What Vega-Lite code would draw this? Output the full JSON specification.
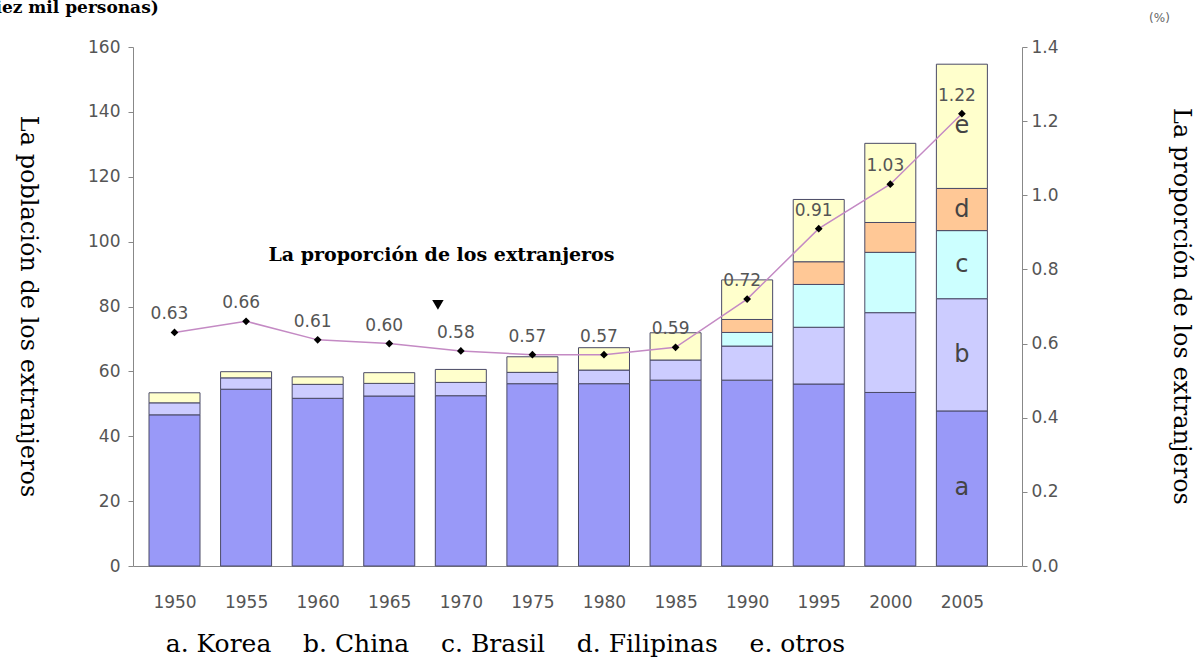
{
  "$schema": "https://vega.github.io/schema/vega-lite/v6.json",
  "autosize": {"type": "none"},
  "width": 889,
  "height": 519,
  "padding": {"left": 133, "top": 47, "right": 175, "bottom": 97},
  "background": "white",
  "config": {"view": {"stroke": null}},
  "datasets": {
    "bars": [
      {"year": 1950, "cat": "a", "value": 46.6}, {"year": 1950, "cat": "b", "value": 3.7}, {"year": 1950, "cat": "e", "value": 3.1},
      {"year": 1955, "cat": "a", "value": 54.5}, {"year": 1955, "cat": "b", "value": 3.5}, {"year": 1955, "cat": "e", "value": 1.9},
      {"year": 1960, "cat": "a", "value": 51.7}, {"year": 1960, "cat": "b", "value": 4.3}, {"year": 1960, "cat": "e", "value": 2.3},
      {"year": 1965, "cat": "a", "value": 52.4}, {"year": 1965, "cat": "b", "value": 3.9}, {"year": 1965, "cat": "e", "value": 3.3},
      {"year": 1970, "cat": "a", "value": 52.5}, {"year": 1970, "cat": "b", "value": 4.1}, {"year": 1970, "cat": "e", "value": 4.0},
      {"year": 1975, "cat": "a", "value": 56.2}, {"year": 1975, "cat": "b", "value": 3.5}, {"year": 1975, "cat": "e", "value": 4.8},
      {"year": 1980, "cat": "a", "value": 56.2}, {"year": 1980, "cat": "b", "value": 4.2}, {"year": 1980, "cat": "e", "value": 6.9},
      {"year": 1985, "cat": "a", "value": 57.3}, {"year": 1985, "cat": "b", "value": 6.2}, {"year": 1985, "cat": "e", "value": 8.4},
      {"year": 1990, "cat": "a", "value": 57.3}, {"year": 1990, "cat": "b", "value": 10.5}, {"year": 1990, "cat": "c", "value": 4.2}, {"year": 1990, "cat": "d", "value": 4.0}, {"year": 1990, "cat": "e", "value": 12.2},
      {"year": 1995, "cat": "a", "value": 56.1}, {"year": 1995, "cat": "b", "value": 17.5}, {"year": 1995, "cat": "c", "value": 13.2}, {"year": 1995, "cat": "d", "value": 7.0}, {"year": 1995, "cat": "e", "value": 19.2},
      {"year": 2000, "cat": "a", "value": 53.5}, {"year": 2000, "cat": "b", "value": 24.6}, {"year": 2000, "cat": "c", "value": 18.6}, {"year": 2000, "cat": "d", "value": 9.2}, {"year": 2000, "cat": "e", "value": 24.4},
      {"year": 2005, "cat": "a", "value": 47.8}, {"year": 2005, "cat": "b", "value": 34.6}, {"year": 2005, "cat": "c", "value": 21.0}, {"year": 2005, "cat": "d", "value": 13.0}, {"year": 2005, "cat": "e", "value": 38.3}
    ],
    "ratio": [
      {"year": 1950, "ratio": 0.63}, {"year": 1955, "ratio": 0.66}, {"year": 1960, "ratio": 0.61}, {"year": 1965, "ratio": 0.60},
      {"year": 1970, "ratio": 0.58}, {"year": 1975, "ratio": 0.57}, {"year": 1980, "ratio": 0.57}, {"year": 1985, "ratio": 0.59},
      {"year": 1990, "ratio": 0.72}, {"year": 1995, "ratio": 0.91}, {"year": 2000, "ratio": 1.03}, {"year": 2005, "ratio": 1.22}
    ]
  },
  "resolve": {"scale": {"y": "independent"}},
  "layer": [
    {
      "layer": [
        {
          "data": {"name": "bars"},
          "mark": {"type": "bar", "size": 51, "stroke": "#4a4a66", "strokeWidth": 1},
          "encoding": {
            "x": {
              "field": "year", "type": "quantitative",
              "scale": {"domain": [1947.45, 2008.85], "nice": false, "zero": false},
              "axis": {
                "values": [1950, 1955, 1960, 1965, 1970, 1975, 1980, 1985, 1990, 1995, 2000, 2005],
                "format": "d", "ticks": false, "grid": false,
                "domainColor": "#888888",
                "labelFont": "DejaVu Sans", "labelFontSize": 17, "labelColor": "#555555", "labelPadding": 28,
                "title": "a. Korea\u00a0\u00a0\u00a0\u00a0b. China\u00a0\u00a0\u00a0\u00a0c. Brasil\u00a0\u00a0\u00a0\u00a0d. Filipinas\u00a0\u00a0\u00a0\u00a0e. otros",
                "titleFont": "DejaVu Serif", "titleFontSize": 25, "titleFontWeight": "normal", "titleColor": "#000000",
                "titleX": 372, "titleY": 77, "titleAlign": "center", "titleBaseline": "middle"
              }
            },
            "y": {
              "field": "value", "type": "quantitative", "stack": "zero",
              "scale": {"domain": [0, 160], "nice": false},
              "axis": {
                "values": [0, 20, 40, 60, 80, 100, 120, 140, 160],
                "grid": false, "tickSize": 5, "tickColor": "#888888", "domainColor": "#888888",
                "labelFont": "DejaVu Sans", "labelFontSize": 17, "labelColor": "#555555", "labelPadding": 8,
                "title": "La población de los extranjeros",
                "titleFont": "DejaVu Serif", "titleFontSize": 24, "titleFontWeight": "normal", "titleColor": "#000000",
                "titleAngle": 90, "titleX": -106, "titleY": 259, "titleAlign": "center", "titleBaseline": "middle"
              }
            },
            "color": {
              "field": "cat", "type": "nominal",
              "scale": {"domain": ["a", "b", "c", "d", "e"], "range": ["#9999F8", "#CCCCFF", "#CCFFFF", "#FFC896", "#FFFFCC"]},
              "legend": null
            },
            "order": {"field": "cat", "sort": "ascending"}
          }
        },
        {
          "data": {"name": "bars"},
          "transform": [
            {"filter": "datum.year === 2005"},
            {"stack": "value", "groupby": ["year"], "sort": [{"field": "cat", "order": "ascending"}], "as": ["v0", "v1"]},
            {"calculate": "(datum.v0 + datum.v1) / 2", "as": "mid"}
          ],
          "mark": {"type": "text", "font": "DejaVu Sans", "fontSize": 24, "color": "#444444", "baseline": "middle", "align": "center"},
          "encoding": {
            "x": {"field": "year", "type": "quantitative", "scale": {"domain": [1947.45, 2008.85], "nice": false, "zero": false}},
            "y": {
              "field": "mid", "type": "quantitative", "scale": {"domain": [0, 160], "nice": false},
              "axis": {
                "values": [0, 20, 40, 60, 80, 100, 120, 140, 160],
                "grid": false, "tickSize": 5, "tickColor": "#888888", "domainColor": "#888888",
                "labelFont": "DejaVu Sans", "labelFontSize": 17, "labelColor": "#555555", "labelPadding": 8,
                "title": "La población de los extranjeros",
                "titleFont": "DejaVu Serif", "titleFontSize": 24, "titleFontWeight": "normal", "titleColor": "#000000",
                "titleAngle": 90, "titleX": -106, "titleY": 259, "titleAlign": "center", "titleBaseline": "middle"
              }
            },
            "text": {"field": "cat"}
          }
        },
        {
          "data": {"values": [{"x": 1968.65, "y": 95.9, "t": "La proporción de los extranjeros"}]},
          "mark": {"type": "text", "font": "DejaVu Serif", "fontSize": 19, "fontWeight": "bold", "color": "#000000", "align": "center", "baseline": "middle"},
          "encoding": {
            "x": {"field": "x", "type": "quantitative", "scale": {"domain": [1947.45, 2008.85], "nice": false, "zero": false}},
            "y": {
              "field": "y", "type": "quantitative", "scale": {"domain": [0, 160], "nice": false},
              "axis": {
                "values": [0, 20, 40, 60, 80, 100, 120, 140, 160],
                "grid": false, "tickSize": 5, "tickColor": "#888888", "domainColor": "#888888",
                "labelFont": "DejaVu Sans", "labelFontSize": 17, "labelColor": "#555555", "labelPadding": 8,
                "title": "La población de los extranjeros",
                "titleFont": "DejaVu Serif", "titleFontSize": 24, "titleFontWeight": "normal", "titleColor": "#000000",
                "titleAngle": 90, "titleX": -106, "titleY": 259, "titleAlign": "center", "titleBaseline": "middle"
              }
            },
            "text": {"field": "t"}
          }
        },
        {
          "data": {"values": [{"x": 1968.4, "y": 80.5}]},
          "mark": {"type": "point", "shape": "triangle-down", "filled": true, "color": "#000000", "size": 130, "opacity": 1},
          "encoding": {
            "x": {"field": "x", "type": "quantitative", "scale": {"domain": [1947.45, 2008.85], "nice": false, "zero": false}},
            "y": {
              "field": "y", "type": "quantitative", "scale": {"domain": [0, 160], "nice": false},
              "axis": {
                "values": [0, 20, 40, 60, 80, 100, 120, 140, 160],
                "grid": false, "tickSize": 5, "tickColor": "#888888", "domainColor": "#888888",
                "labelFont": "DejaVu Sans", "labelFontSize": 17, "labelColor": "#555555", "labelPadding": 8,
                "title": "La población de los extranjeros",
                "titleFont": "DejaVu Serif", "titleFontSize": 24, "titleFontWeight": "normal", "titleColor": "#000000",
                "titleAngle": 90, "titleX": -106, "titleY": 259, "titleAlign": "center", "titleBaseline": "middle"
              }
            }
          }
        },
        {
          "data": {"values": [{"x": 1948.9, "y": 170.6, "t": "(diez mil personas)"}]},
          "mark": {"type": "text", "font": "DejaVu Serif", "fontSize": 17, "fontWeight": "bold", "color": "#000000", "align": "right", "baseline": "alphabetic"},
          "encoding": {
            "x": {"field": "x", "type": "quantitative", "scale": {"domain": [1947.45, 2008.85], "nice": false, "zero": false}},
            "y": {
              "field": "y", "type": "quantitative", "scale": {"domain": [0, 160], "nice": false},
              "axis": {
                "values": [0, 20, 40, 60, 80, 100, 120, 140, 160],
                "grid": false, "tickSize": 5, "tickColor": "#888888", "domainColor": "#888888",
                "labelFont": "DejaVu Sans", "labelFontSize": 17, "labelColor": "#555555", "labelPadding": 8,
                "title": "La población de los extranjeros",
                "titleFont": "DejaVu Serif", "titleFontSize": 24, "titleFontWeight": "normal", "titleColor": "#000000",
                "titleAngle": 90, "titleX": -106, "titleY": 259, "titleAlign": "center", "titleBaseline": "middle"
              }
            },
            "text": {"field": "t"}
          }
        },
        {
          "data": {"values": [{"x": 2018.8, "y": 169, "t": "(%)"}]},
          "mark": {"type": "text", "font": "DejaVu Sans", "fontSize": 12, "color": "#666666", "align": "center", "baseline": "middle"},
          "encoding": {
            "x": {"field": "x", "type": "quantitative", "scale": {"domain": [1947.45, 2008.85], "nice": false, "zero": false}},
            "y": {
              "field": "y", "type": "quantitative", "scale": {"domain": [0, 160], "nice": false},
              "axis": {
                "values": [0, 20, 40, 60, 80, 100, 120, 140, 160],
                "grid": false, "tickSize": 5, "tickColor": "#888888", "domainColor": "#888888",
                "labelFont": "DejaVu Sans", "labelFontSize": 17, "labelColor": "#555555", "labelPadding": 8,
                "title": "La población de los extranjeros",
                "titleFont": "DejaVu Serif", "titleFontSize": 24, "titleFontWeight": "normal", "titleColor": "#000000",
                "titleAngle": 90, "titleX": -106, "titleY": 259, "titleAlign": "center", "titleBaseline": "middle"
              }
            },
            "text": {"field": "t"}
          }
        }
      ]
    },
    {
      "data": {"name": "ratio"},
      "layer": [
        {
          "mark": {"type": "line", "color": "#C48AC4", "strokeWidth": 1.5},
          "encoding": {
            "x": {"field": "year", "type": "quantitative", "scale": {"domain": [1947.45, 2008.85], "nice": false, "zero": false}},
            "y": {
              "field": "ratio", "type": "quantitative",
              "scale": {"domain": [0, 1.4], "nice": false},
              "axis": {
                "orient": "right",
                "values": [0, 0.1, 0.2, 0.3, 0.4, 0.5, 0.6, 0.7, 0.8, 0.9, 1.0, 1.1, 1.2, 1.3, 1.4],
                "format": ".1f", "grid": false, "tickSize": 5, "tickColor": "#888888", "domainColor": "#888888",
                "labelFont": "DejaVu Sans", "labelFontSize": 17, "labelColor": "#555555", "labelPadding": 4,
                "title": "La proporción de los extranjeros",
                "titleFont": "DejaVu Serif", "titleFontSize": 24, "titleFontWeight": "normal", "titleColor": "#000000",
                "titleAngle": 90, "titleX": 158, "titleY": 259, "titleAlign": "center", "titleBaseline": "middle"
              }
            }
          }
        },
        {
          "mark": {"type": "point", "shape": "diamond", "filled": true, "color": "#000000", "size": 60, "opacity": 1},
          "encoding": {
            "x": {"field": "year", "type": "quantitative", "scale": {"domain": [1947.45, 2008.85], "nice": false, "zero": false}},
            "y": {"field": "ratio", "type": "quantitative", "scale": {"domain": [0, 1.4], "nice": false}}
          }
        },
        {
          "mark": {"type": "text", "font": "DejaVu Sans", "fontSize": 17, "color": "#555555", "dx": -5, "dy": -18, "align": "center", "baseline": "middle"},
          "encoding": {
            "x": {"field": "year", "type": "quantitative", "scale": {"domain": [1947.45, 2008.85], "nice": false, "zero": false}},
            "y": {"field": "ratio", "type": "quantitative", "scale": {"domain": [0, 1.4], "nice": false}},
            "text": {"field": "ratio", "type": "quantitative", "format": ".2f"}
          }
        }
      ]
    }
  ]
}
